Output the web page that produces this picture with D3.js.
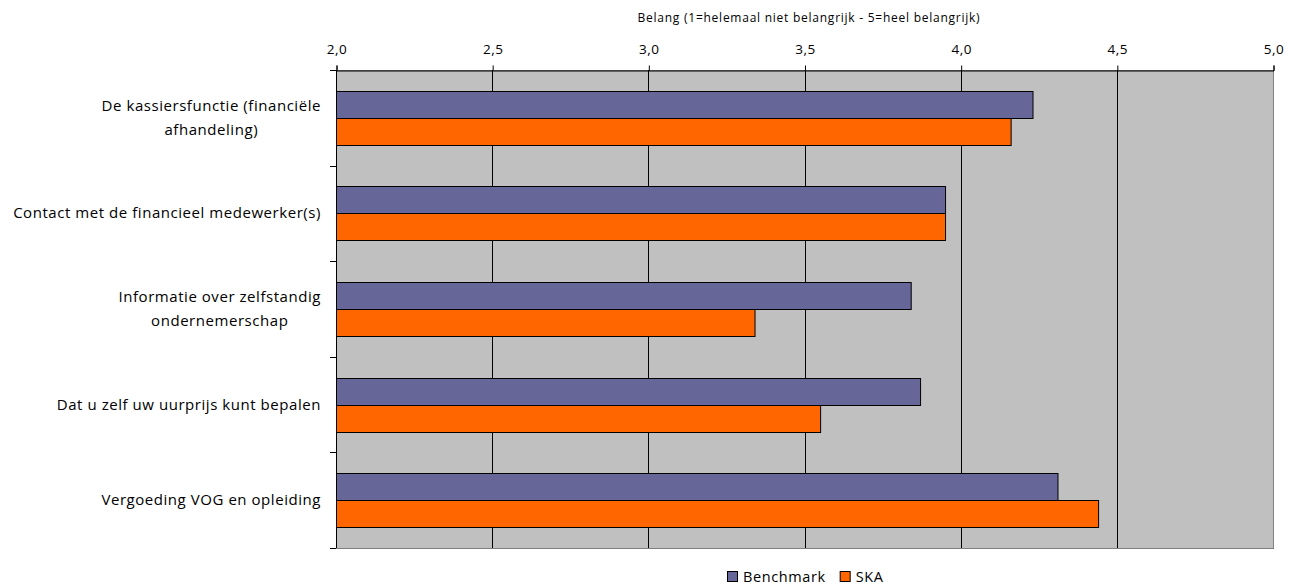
<!DOCTYPE html>
<html>
<head>
<meta charset="utf-8">
<script src="https://cdn.jsdelivr.net/npm/d3@7"></script>
<style>
  body { margin: 0; background: #fff; }
  text { font-family: "Open Sans", sans-serif; fill: #000; font-variant-ligatures: none; }
</style>
</head>
<body>
<div id="chart_area"></div>
<script>
// chart data
var categories = [
    ["De kassiersfunctie (financiële", "afhandeling)"],
    ["Contact met de financieel medewerker(s)"],
    ["Informatie over zelfstandig", "ondernemerschap"],
    ["Dat u zelf uw uurprijs kunt bepalen"],
    ["Vergoeding VOG en opleiding"]
];
var seriesNames = ["Benchmark", "SKA"];
var benchmark = [4.23, 3.95, 3.84, 3.87, 4.31];
var ska = [4.16, 3.95, 3.34, 3.55, 4.44];
var tickValues = [2.0, 2.5, 3.0, 3.5, 4.0, 4.5, 5.0];
var axisTitle = "Belang (1=helemaal niet belangrijk - 5=heel belangrijk)";

var colors = ["#666699", "#FF6600"];

var width = 1300, height = 588;
var plotLeft = 336, plotRight = 1273, plotTop = 70, plotBottom = 548;

var svg = d3.select("#chart_area")
    .append("svg")
    .attr("width", width)
    .attr("height", height);

var x = d3.scaleLinear().domain([2, 5]).range([plotLeft, plotRight]);
var y = d3.scaleBand().domain(d3.range(categories.length)).range([plotTop, plotBottom]);
var inner = d3.scaleBand().domain([0, 1]).range([0, y.bandwidth()]).paddingOuter(0.77);

// plot background
svg.append("rect")
    .attr("x", plotLeft + 0.5).attr("y", plotTop + 0.5)
    .attr("width", plotRight - plotLeft).attr("height", plotBottom - plotTop)
    .attr("fill", "#C0C0C0")
    .attr("stroke", "#808080")
    .attr("stroke-width", 1);

// gridlines
svg.selectAll("line.grid")
    .data(tickValues.slice(1, -1))
    .enter().append("line")
    .attr("class", "grid")
    .attr("x1", function(d){ return Math.round(x(d)) + 0.5; })
    .attr("x2", function(d){ return Math.round(x(d)) + 0.5; })
    .attr("y1", plotTop).attr("y2", plotBottom)
    .attr("stroke", "#000")
    .attr("stroke-width", 1);

// bars
var data = [benchmark, ska];
data.forEach(function(vals, s) {
    svg.selectAll("rect.s" + s)
        .data(vals)
        .enter().append("rect")
        .attr("class", "s" + s)
        .attr("x", x(2) + 0.5)
        .attr("y", function(d, i){ return Math.round(y(i) + inner(s)) + 0.5; })
        .attr("width", function(d){ return x(d) - x(2); })
        .attr("height", Math.round(inner.bandwidth()))
        .attr("fill", colors[s])
        .attr("stroke", "#000")
        .attr("stroke-width", 1);
});

// top axis
var xAxis = d3.axisTop(x)
    .tickValues(tickValues)
    .tickSize(5)
    .tickFormat(function(d){ return d3.format(".1f")(d).replace(".", ","); });
var gx = svg.append("g")
    .attr("transform", "translate(0.5," + (plotTop + 0.5) + ")")
    .call(xAxis);
gx.select(".domain").attr("stroke", "#000");
gx.selectAll(".tick line").attr("stroke", "#000");
gx.selectAll(".tick text")
    .attr("y", -17)
    .attr("dy", 0)
    .style("font-size", "13.5px")
    .style("font-family", "'Open Sans', sans-serif")
    .style("letter-spacing", "0.5px");

// left axis line with category ticks
svg.append("line")
    .attr("x1", plotLeft + 0.5).attr("x2", plotLeft + 0.5)
    .attr("y1", plotTop).attr("y2", plotBottom)
    .attr("stroke", "#000");
svg.selectAll("line.ytick")
    .data(d3.range(categories.length + 1))
    .enter().append("line")
    .attr("class", "ytick")
    .attr("x1", plotLeft - 6).attr("x2", plotLeft)
    .attr("y1", function(d){ return Math.round(plotTop + d * y.step()) + 0.5; })
    .attr("y2", function(d){ return Math.round(plotTop + d * y.step()) + 0.5; })
    .attr("stroke", "#000");

// category labels
var labels = svg.selectAll("text.cat")
    .data(categories)
    .enter().append("text")
    .attr("class", "cat")
    .attr("text-anchor", "middle")
    .style("font-size", "15px")
    .style("letter-spacing", "0.55px");
labels.each(function(lines, i) {
    var t = d3.select(this);
    var cy = y(i) + y.bandwidth() / 2;
    var lh = 24;
    lines.forEach(function(l, j) {
        t.append("tspan")
            .attr("x", 0)
            .attr("y", cy - (lines.length - 1) * lh / 2 + j * lh + 5)
            .text(l);
    });
    // widest line ends at a fixed edge, lines centred on each other
    var w = t.node().getBBox().width;
    t.selectAll("tspan").attr("x", 321 - w / 2);
});

// axis title
svg.append("text")
    .attr("x", 809).attr("y", 22)
    .attr("text-anchor", "middle")
    .style("font-size", "12px")
    .style("letter-spacing", "0.75px")
    .text(axisTitle);

// legend
var legend = svg.append("g").attr("transform", "translate(727,571)");
var lx = 0;
seriesNames.forEach(function(name, i) {
    legend.append("rect")
        .attr("x", lx + 0.5).attr("y", 0.5)
        .attr("width", 10).attr("height", 10)
        .attr("fill", colors[i])
        .attr("stroke", "#000");
    var t = legend.append("text")
        .attr("x", lx + 16).attr("y", 11)
        .style("font-size", "14.5px")
        .style("letter-spacing", "0.6px")
        .text(name);
    lx += 16 + t.node().getComputedTextLength() + 14;
});
</script>
</body>
</html>
